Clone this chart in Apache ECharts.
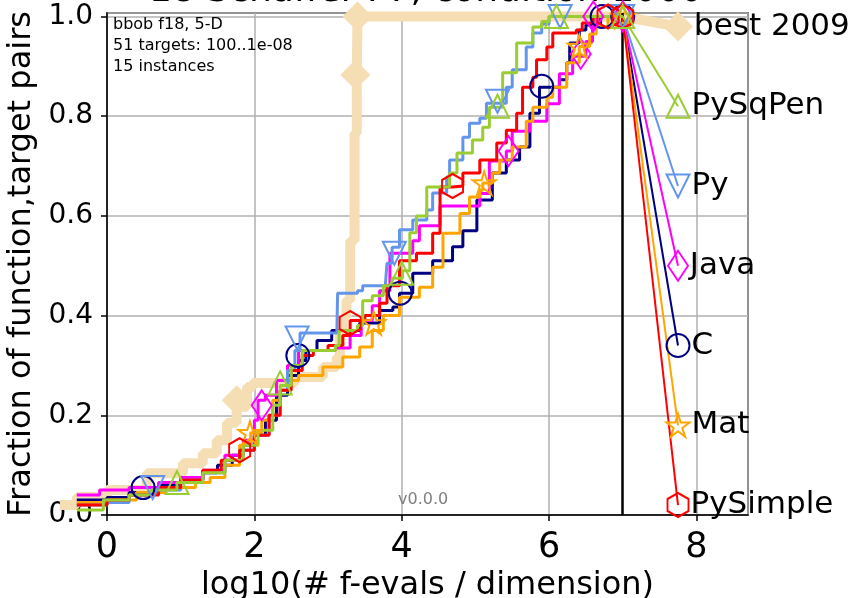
<!DOCTYPE html>
<html lang="en">
<head>
<meta charset="UTF-8">
<title>bbob f18 ECDF</title>
<script src="https://cdn.jsdelivr.net/npm/echarts@6/dist/echarts.min.js"></script>
<style>
  html, body { margin: 0; padding: 0; background: #fff; }
  #chart { width: 852px; height: 598px; }
</style>
</head>
<body>
<div id="chart"></div>
<script>
// ECDF steps, [log10(evals/dim), fraction]
var stepsBest = [[-0.64,0.02],[-0.41,0.036],[0,0.05],[0.54,0.084],[1.03,0.104],[1.3,0.124],[1.49,0.15],[1.63,0.185],[1.76,0.217],[1.9,0.257],[1.98,0.265],[2.55,0.277],[2.93,0.297],[3.12,0.317],[3.16,0.365],[3.2,0.397],[3.25,0.431],[3.3,0.55],[3.36,0.766],[3.39,0.883],[3.4,1.0],[7.0,1.0]];
var stepsC = [[-0.41,0.03],[0,0.035],[0.3,0.045],[0.7,0.06],[1.0,0.07],[1.3,0.085],[1.5,0.1],[1.7,0.12],[1.85,0.14],[2.0,0.16],[2.15,0.19],[2.3,0.24],[2.45,0.28],[2.6,0.31],[2.7,0.33],[2.85,0.35],[3.05,0.37],[3.43,0.385],[3.7,0.41],[3.88,0.417],[3.97,0.445],[4.15,0.485],[4.42,0.51],[4.69,0.538],[4.83,0.57],[5.02,0.632],[5.23,0.686],[5.42,0.712],[5.6,0.738],[5.74,0.806],[5.87,0.858],[6.14,0.873],[6.24,0.907],[6.28,0.947],[6.41,0.973],[6.5,0.983],[6.7,1.0],[7.0,1.0]];
var stepsJava = [[-0.41,0.04],[-0.1,0.05],[0.3,0.055],[0.7,0.065],[1.0,0.075],[1.3,0.09],[1.6,0.12],[1.85,0.15],[2.0,0.19],[2.05,0.23],[2.15,0.24],[2.3,0.27],[2.45,0.3],[2.6,0.33],[3.1,0.335],[3.3,0.36],[3.45,0.39],[3.6,0.42],[3.7,0.45],[3.84,0.525],[4.15,0.55],[4.24,0.58],[4.52,0.62],[5.06,0.645],[5.19,0.71],[5.42,0.73],[5.5,0.77],[5.74,0.79],[5.97,0.825],[6.14,0.885],[6.32,0.92],[6.5,0.95],[6.59,0.98],[6.65,1.0],[7.0,1.0]];
var stepsMat = [[-0.41,0.025],[0,0.03],[0.4,0.045],[0.8,0.055],[1.2,0.065],[1.4,0.075],[1.6,0.1],[1.8,0.14],[1.95,0.165],[2.1,0.19],[2.25,0.23],[2.35,0.25],[2.45,0.27],[2.6,0.28],[2.93,0.297],[3.2,0.317],[3.43,0.337],[3.6,0.37],[3.75,0.4],[3.97,0.437],[4.24,0.457],[4.42,0.497],[4.56,0.565],[4.79,0.605],[4.92,0.638],[5.06,0.652],[5.1,0.666],[5.23,0.686],[5.33,0.712],[5.5,0.738],[5.69,0.79],[5.78,0.818],[5.97,0.838],[6.05,0.858],[6.24,0.907],[6.41,0.94],[6.55,0.965],[6.64,0.98],[6.8,1.0],[7.0,1.0]];
var stepsPy = [[-0.41,0.02],[0,0.025],[0.3,0.04],[0.6,0.05],[1.0,0.07],[1.3,0.085],[1.6,0.11],[1.8,0.13],[2.0,0.16],[2.2,0.2],[2.35,0.25],[2.45,0.29],[2.55,0.33],[2.62,0.365],[3.12,0.37],[3.13,0.445],[3.4,0.45],[3.47,0.46],[3.78,0.465],[3.8,0.505],[3.87,0.537],[3.97,0.572],[4.15,0.592],[4.34,0.612],[4.42,0.646],[4.61,0.678],[4.65,0.712],[4.83,0.758],[4.92,0.786],[5.06,0.796],[5.15,0.826],[5.42,0.858],[5.5,0.893],[5.69,0.939],[5.78,0.967],[5.9,0.985],[6.0,1.0],[7.0,1.0]];
var stepsPySimple = [[-0.41,0.02],[0,0.03],[0.3,0.04],[0.7,0.055],[1.0,0.07],[1.3,0.09],[1.55,0.11],[1.8,0.13],[2.0,0.16],[2.2,0.2],[2.35,0.25],[2.5,0.29],[2.65,0.32],[2.8,0.33],[3.0,0.34],[3.2,0.36],[3.3,0.39],[3.5,0.4],[3.7,0.425],[3.8,0.46],[3.97,0.51],[4.2,0.525],[4.42,0.565],[4.52,0.658],[4.69,0.66],[4.83,0.686],[5.06,0.712],[5.29,0.746],[5.42,0.772],[5.56,0.806],[5.64,0.858],[5.78,0.878],[5.83,0.913],[5.97,0.939],[6.05,0.967],[6.37,0.973],[6.45,0.987],[6.6,1.0],[7.0,1.0]];
var stepsPySqPen = [[-0.41,0.01],[-0.08,0.01],[-0.05,0.03],[0.3,0.04],[0.6,0.05],[0.95,0.065],[1.3,0.085],[1.6,0.11],[1.85,0.14],[2.05,0.17],[2.25,0.22],[2.35,0.26],[2.5,0.3],[2.65,0.33],[3.1,0.34],[3.15,0.37],[3.4,0.38],[3.47,0.43],[3.6,0.44],[3.75,0.46],[3.87,0.475],[4.01,0.49],[4.11,0.566],[4.2,0.6],[4.34,0.658],[4.65,0.686],[4.75,0.726],[4.96,0.752],[5.1,0.778],[5.19,0.818],[5.37,0.887],[5.56,0.947],[5.78,0.979],[5.9,0.99],[6.0,1.0],[7.0,1.0]];

// marker positions along each curve
var marksBest = [[1.76,0.23],[3.37,0.883],[3.4,1.0]];
var marksC = [[0.49,0.055],[2.59,0.32],[3.98,0.445],[5.9,0.86],[6.72,1.0],[7.0,1.0]];
var marksJava = [[2.1,0.22],[5.45,0.73],[6.43,0.925],[6.6,1.0],[7.0,1.0]];
var marksMat = [[1.94,0.165],[3.62,0.385],[5.12,0.666],[6.41,0.94],[7.0,1.0]];
var marksPy = [[0.62,0.055],[2.58,0.355],[3.9,0.525],[5.3,0.83],[6.15,1.0],[7.0,1.0]];
var marksPySimple = [[1.8,0.13],[3.3,0.385],[4.69,0.66],[6.8,1.0],[7.0,1.0]];
var marksPySqPen = [[0.95,0.065],[2.35,0.265],[4.0,0.485],[5.3,0.82],[6.1,1.0],[7.0,1.0]];

// where each curve's name sits on the right
var labelX = 7.75;
var labelNames = ['best 2009', 'PySqPen', 'Py', 'Java', 'C', 'Mat', 'PySimple'];
var labelY = [0.98, 0.82, 0.66, 0.5, 0.34, 0.18, 0.02];
var maxBudget = 7;
var xTickStep = 2;
var yTickStep = 0.2;

var FONT = 'DejaVu Sans';
var hexagon = 'path://M0,-100L86.6,-50L86.6,50L0,100L-86.6,50L-86.6,-50Z';
var star = 'path://M0,-100L22,-31L95,-31L36,12L59,81L0,38L-59,81L-36,12L-95,-31L-22,-31Z';

// visible axes: x from 0 to 8.7; the curves sit on a hidden twin grid with the
// same scale that starts further left, so they can run past the y axis
var X_MAX = 8.7, X_MIN_DATA = -0.8, Y_MAX = 1.007;
var GRID_LEFT = 107, GRID_RIGHT = 104, GRID_TOP = 13, GRID_BOTTOM = 83;
var pxPerUnit = (852 - GRID_LEFT - GRID_RIGHT) / X_MAX;
var dataLeft = GRID_LEFT + X_MIN_DATA * pxPerUnit;

var algs = [
  {name: 'best 2009', color: '#F5DEB3', steps: stepsBest, marks: marksBest, symbol: 'diamond', size: 30, width: 10, filled: true},
  {name: 'C', color: '#000080', steps: stepsC, marks: marksC, symbol: 'circle', size: 23, width: 3},
  {name: 'Java', color: '#FF00FF', steps: stepsJava, marks: marksJava, symbol: 'diamond', size: [20, 30], width: 3},
  {name: 'Mat', color: '#FFA500', steps: stepsMat, marks: marksMat, symbol: star, size: 23, width: 3},
  {name: 'Py', color: '#6495ED', steps: stepsPy, marks: marksPy, symbol: 'triangle', rotate: 180, size: 23, width: 3},
  {name: 'PySimple', color: '#FF0000', steps: stepsPySimple, marks: marksPySimple, symbol: hexagon, size: [21, 24], width: 3},
  {name: 'PySqPen', color: '#9ACD32', steps: stepsPySqPen, marks: marksPySqPen, symbol: 'triangle', size: 23, width: 3}
];

var series = [];
algs.forEach(function (a, i) {
  var ly = labelY[labelNames.indexOf(a.name)];
  var last = a.steps[a.steps.length - 1];
  var itemStyle = a.filled
    ? {color: a.color, opacity: 1}
    : {color: 'rgba(255,255,255,0)', borderColor: a.color, borderWidth: 2, opacity: 1};
  var s = {
    type: 'line', name: a.name, data: a.steps, step: 'end',
    xAxisIndex: 1, yAxisIndex: 1,
    symbol: 'none', clip: false, z: 2 + i,
    lineStyle: {color: a.color, width: a.width}
  };
  if (i === 0) {
    s.markLine = {
      silent: true, symbol: ['none', 'none'], label: {show: false},
      lineStyle: {color: '#000', width: 2.5, type: 'solid'},
      data: [{xAxis: maxBudget}]
    };
  }
  series.push(s);
  series.push({
    type: 'line', data: [last, [labelX, ly]], symbol: 'none', clip: false, z: 2 + i,
    xAxisIndex: 1, yAxisIndex: 1,
    lineStyle: {color: a.color, width: a.filled ? 10 : 2}
  });
  var pts = a.marks.map(function (p) { return {value: p}; });
  pts.push({
    value: [labelX, ly],
    label: {show: true, position: 'right', distance: 1, formatter: a.name,
            color: '#000', opacity: 1, fontSize: 31, fontFamily: FONT}
  });
  series.push({
    type: 'scatter', data: pts, symbol: a.symbol, symbolSize: a.size,
    xAxisIndex: 1, yAxisIndex: 1,
    symbolRotate: a.rotate || 0, clip: false, z: 20 + i,
    itemStyle: itemStyle
  });
});

var chart = echarts.init(document.getElementById('chart'), null, {renderer: 'canvas'});
chart.setOption({
  animation: false,
  backgroundColor: '#fff',
  textStyle: {fontFamily: FONT},
  title: {
    text: '18 Schaffer F7, condition 1000', left: 'center', top: -26, padding: 0,
    textStyle: {fontSize: 36, fontWeight: 'normal', color: '#000', fontFamily: FONT}
  },
  grid: [
    {left: GRID_LEFT, right: GRID_RIGHT, top: GRID_TOP, bottom: GRID_BOTTOM, show: true,
     containLabel: false, outerBoundsMode: 'none',
     borderColor: '#000', borderWidth: 1.5, backgroundColor: 'rgba(0,0,0,0)'},
    {left: dataLeft, right: GRID_RIGHT, top: GRID_TOP, bottom: GRID_BOTTOM, show: false,
     containLabel: false, outerBoundsMode: 'none'}
  ],
  xAxis: [{
    type: 'value', gridIndex: 0, min: 0, max: X_MAX, interval: xTickStep,
    name: 'log10(# f-evals / dimension)', nameLocation: 'middle', nameGap: 55,
    nameTextStyle: {fontSize: 32, color: '#000', fontFamily: FONT},
    axisLine: {show: true, lineStyle: {color: '#000', width: 1.5}},
    axisTick: {show: true, length: 6, lineStyle: {color: '#000', width: 1.5}},
    axisLabel: {fontSize: 35, color: '#000', margin: 15, showMaxLabel: false, fontFamily: FONT},
    splitLine: {show: true, lineStyle: {color: '#b0b0b0', width: 1.5}}
  }, {
    type: 'value', gridIndex: 1, min: X_MIN_DATA, max: X_MAX, show: false
  }],
  yAxis: [{
    type: 'value', gridIndex: 0, min: 0, max: Y_MAX, interval: yTickStep,
    name: 'Fraction of function,target pairs', nameLocation: 'middle', nameGap: 60,
    nameTextStyle: {fontSize: 32, color: '#000', fontFamily: FONT},
    axisLine: {show: true, lineStyle: {color: '#000', width: 1.5}},
    axisTick: {show: true, length: 6, lineStyle: {color: '#000', width: 1.5}},
    axisLabel: {fontSize: 28, color: '#000', margin: 14, showMaxLabel: false, fontFamily: FONT,
                formatter: function (v) { return v.toFixed(1); }},
    splitLine: {show: true, lineStyle: {color: '#b0b0b0', width: 1.5}}
  }, {
    type: 'value', gridIndex: 1, min: 0, max: Y_MAX, show: false
  }],
  graphic: [
    {type: 'text', left: 113, top: 14, z: 100,
     style: {text: 'bbob f18, 5-D\n51 targets: 100..1e-08\n15 instances',
             font: '16px "DejaVu Sans"', fill: '#000', lineHeight: 21}},
    {type: 'text', left: 398, top: 492, z: 100,
     style: {text: 'v0.0.0', font: '16px "DejaVu Sans"', fill: '#808080'}}
  ],
  series: series
});
</script>
</body>
</html>
